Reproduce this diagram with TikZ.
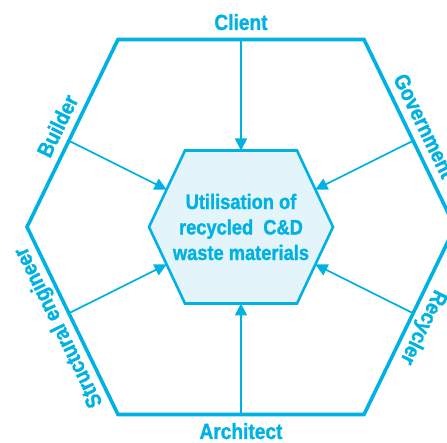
\documentclass[tikz,border=0pt]{standalone}
\usepackage{fontspec}
\setmainfont{Liberation Sans}[FakeStretch=0.87,BoldFeatures={FakeBold=1.2}]
\usepackage{xcolor}
\usetikzlibrary{calc,arrows.meta,positioning}
\definecolor{hexblue}{RGB}{0,178,227}
\definecolor{hexfill}{RGB}{227,245,251}

\begin{document}
\begin{tikzpicture}[x=1pt,y=1pt,
	outerhex/.style={draw=hexblue,line width=3.6pt},
	innerhex/.style={draw=hexblue,fill=hexfill,line width=2.6pt},
	flow/.style={draw=hexblue,line width=1.7pt,-{Triangle[length=12pt,width=12pt]}},
	actor/.style={text=hexblue,font=\bfseries\fontsize{22}{26}\selectfont,anchor=base,inner sep=0pt}]
	\clip (-241,-216) rectangle (206,227);
	\draw[outerhex] (-123,187.5) coordinate(otl) -- (123,187.5) coordinate(otr) -- (214,0) coordinate(or)
		-- (123,-187.5) coordinate(obr) -- (-123,-187.5) coordinate(obl) -- (-214,0) coordinate(ol) -- cycle;
	\draw[innerhex] (-56,76.5) coordinate(itl) -- (56,76.5) coordinate(itr) -- (92,0) coordinate(ir)
		-- (56,-76.5) coordinate(ibr) -- (-56,-76.5) coordinate(ibl) -- (-92,0) coordinate(il) -- cycle;
	\node[text=hexblue,font=\bfseries\fontsize{21}{25.5}\selectfont,align=center] (goal) at (0,0)
		{Utilisation of\\recycled\ \ C\&D\\waste materials};

	\node[actor,yshift=9.5pt] (client) at ($(otl)!0.5!(otr)$) {Client};
	\node[actor,yshift=-24.5pt] (architect) at ($(obl)!0.5!(obr)$) {Architect};
	\node[actor,rotate=64,yshift=9pt] (builder) at ($(ol)!0.5!(otl)$) {Builder};
	\node[actor,rotate=-64,yshift=9pt] (government) at ($(otr)!0.5!(or)$) {Government};
	\node[actor,rotate=116,yshift=9pt] (engineer) at ($(obl)!0.5!(ol)$) {Structural engineer};
	\node[actor,rotate=-116,yshift=9pt] (recycler) at ($(or)!0.5!(obr)$) {Recycler};

	\coordinate (client-s) at ($(otl)!0.5!(otr)$);
	\coordinate (client-e) at ($(itl)!0.5!(itr)$);
	\coordinate (architect-s) at ($(obl)!0.5!(obr)$);
	\coordinate (architect-e) at ($(ibl)!0.5!(ibr)$);
	\coordinate (builder-s) at ($(ol)!0.46!(otl)$);
	\coordinate (builder-e) at ($(il)!0.49!(itl)$);
	\coordinate (government-s) at ($(or)!0.46!(otr)$);
	\coordinate (government-e) at ($(ir)!0.49!(itr)$);
	\coordinate (engineer-s) at ($(ol)!0.46!(obl)$);
	\coordinate (engineer-e) at ($(il)!0.49!(ibl)$);
	\coordinate (recycler-s) at ($(or)!0.46!(obr)$);
	\coordinate (recycler-e) at ($(ir)!0.49!(ibr)$);

	\foreach \who in {client,architect,builder,government,engineer,recycler}
		\draw[flow] (\who-s) -- (\who-e);
\end{tikzpicture}
\end{document}
